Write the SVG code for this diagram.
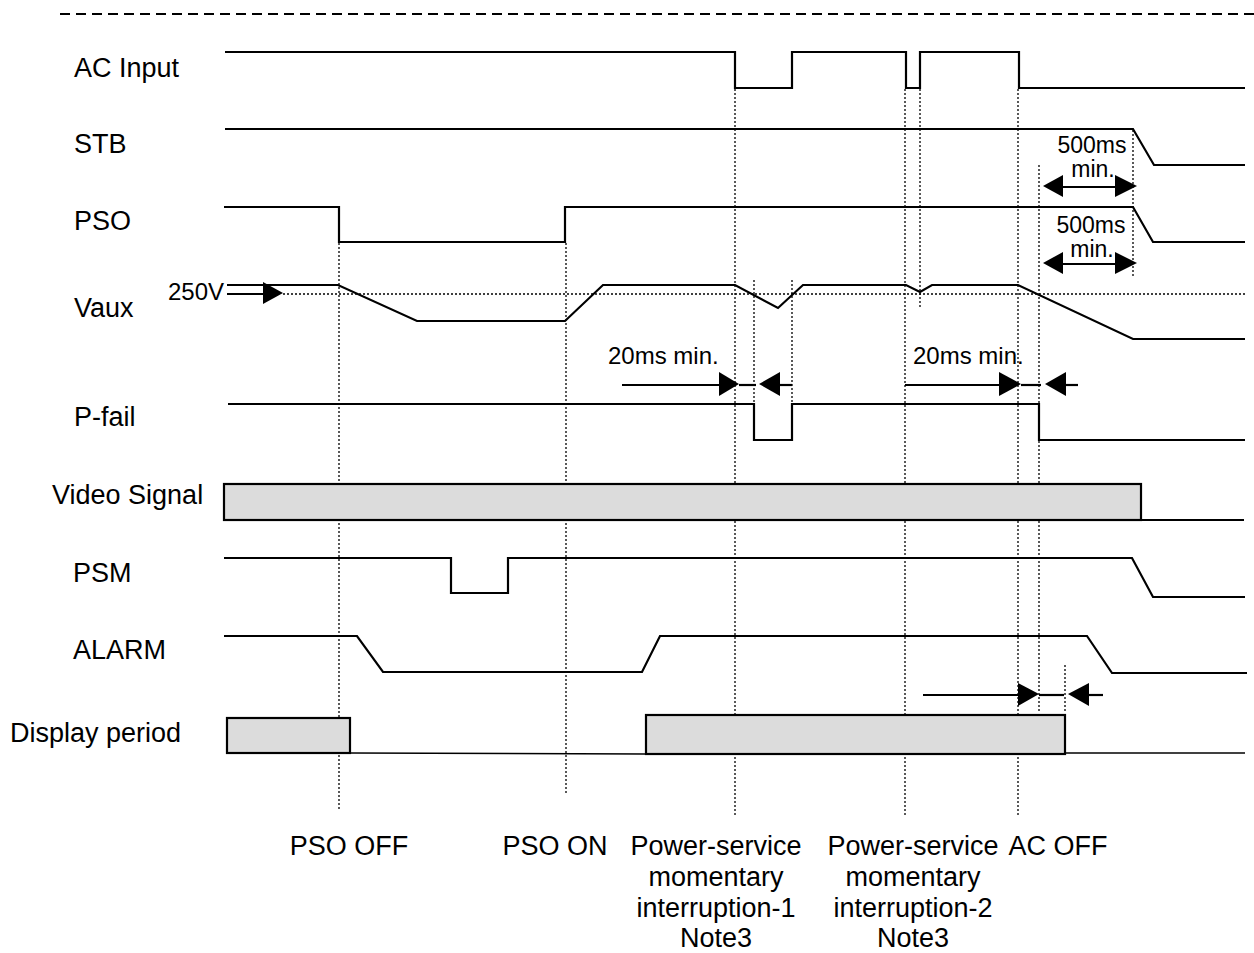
<svg xmlns="http://www.w3.org/2000/svg" width="1254" height="953" viewBox="0 0 1254 953">
<style>
text{font-family:"Liberation Sans",Arial,sans-serif;fill:#000}
.lbl{font-size:27px}
.sm{font-size:24px}
.ms{font-size:23px;text-anchor:middle}
.bt{font-size:27px;text-anchor:middle}
.sig{fill:none;stroke:#000;stroke-width:2.2;stroke-linejoin:miter}
.box{fill:#dcdcdc;stroke:#000;stroke-width:2.2}
.dot{fill:none;stroke:#000;stroke-width:1.3;stroke-dasharray:2 2}
.ar{fill:#000;stroke:none}
.sh{fill:none;stroke:#000;stroke-width:2.2}
</style>
<rect width="1254" height="953" fill="#fff"/>
<line x1="60" y1="14" x2="1254" y2="14" stroke="#000" stroke-width="2.2" stroke-dasharray="10 6"/>
<g id="guides">
<line class="dot" x1="339" y1="243" x2="339" y2="810"/>
<line class="dot" x1="566" y1="243" x2="566" y2="795"/>
<line class="dot" x1="735" y1="89" x2="735" y2="815"/>
<line class="dot" x1="754" y1="280" x2="754" y2="440"/>
<line class="dot" x1="792" y1="280" x2="792" y2="440"/>
<line class="dot" x1="905" y1="89" x2="905" y2="815"/>
<line class="dot" x1="920" y1="89" x2="920" y2="308"/>
<line class="dot" x1="1018" y1="89" x2="1018" y2="815"/>
<line class="dot" x1="1039" y1="165" x2="1039" y2="713"/>
<line class="dot" x1="1065" y1="665" x2="1065" y2="713"/>
<line class="dot" x1="1133" y1="130" x2="1133" y2="277"/>
<line class="dot" x1="283" y1="294" x2="1245" y2="294"/>
</g>
<g id="ac-input">
<text class="lbl" x="74" y="77">AC Input</text>
<polyline class="sig" points="225,52 735,52 735,88 792,88 792,52 906,52 906,88 920,88 920,52 1019,52 1019,88 1245,88"/>
</g>
<g id="stb">
<text class="lbl" x="74" y="153">STB</text>
<polyline class="sig" points="225,129 1133,129 1154,165 1245,165"/>
</g>
<g id="pso">
<text class="lbl" x="74" y="230">PSO</text>
<polyline class="sig" points="224,207 339,207 339,242 565,242 565,207 1133,207 1153,242 1245,242"/>
</g>
<g id="vaux">
<text class="lbl" x="74" y="317">Vaux</text>
<text class="sm" x="168" y="300">250V</text>
<polyline class="sig" points="227,285 338,285 417,321 565,321 603,285 735,285 778,308 803,285 906,285 920,292 932,285 1018,285 1133,339 1245,339"/>
</g>
<g id="pfail">
<text class="lbl" x="74" y="426">P-fail</text>
<polyline class="sig" points="228,404 754,404 754,440 792,440 792,404 1039,404 1039,440 1245,440"/>
</g>
<g id="video">
<text class="lbl" x="52" y="504">Video Signal</text>
<rect class="box" x="224" y="484" width="917" height="36"/>
<line class="sig" x1="1141" y1="520" x2="1244" y2="520"/>
</g>
<g id="psm">
<text class="lbl" x="73" y="582">PSM</text>
<polyline class="sig" points="224,558 451,558 451,593 508,593 508,558 1132,558 1153,597 1245,597"/>
</g>
<g id="alarm">
<text class="lbl" x="73" y="659">ALARM</text>
<polyline class="sig" points="224,636 357,636 383,672 642,672 660,636 1087,636 1112,673 1247,673"/>
</g>
<g id="display">
<text class="lbl" x="10" y="742">Display period</text>
<rect class="box" x="227" y="718" width="123" height="35"/>
<line x1="350" y1="753" x2="646" y2="754" stroke="#000" stroke-width="1.5"/>
<rect class="box" x="646" y="715" width="419" height="39"/>
<line x1="1065" y1="753" x2="1245" y2="753" stroke="#000" stroke-width="1.5"/>
</g>
<g id="connectors">
<line class="sh" x1="1060" y1="187" x2="1118" y2="187"/>
<polygon class="ar" points="1043,186 1063,175 1063,197"/>
<polygon class="ar" points="1137,186 1115,175 1115,197"/>
<line class="sh" x1="1060" y1="264" x2="1118" y2="264"/>
<polygon class="ar" points="1043,263 1063,252 1063,274"/>
<polygon class="ar" points="1137,263 1115,252 1115,274"/>
<line class="sh" x1="227" y1="294" x2="265" y2="294"/>
<polygon class="ar" points="283,293 263,282 263,304"/>
<line class="sh" x1="622" y1="385" x2="721" y2="385"/>
<polygon class="ar" points="739,384 719,372 719,396"/>
<line class="sh" x1="739" y1="385" x2="756" y2="385"/>
<polygon class="ar" points="759,384 780,372 780,396"/>
<line class="sh" x1="778" y1="385" x2="792" y2="385"/>
<line class="sh" x1="905" y1="385" x2="1001" y2="385"/>
<polygon class="ar" points="1021,384 999,372 999,396"/>
<line class="sh" x1="1021" y1="385" x2="1041" y2="385"/>
<polygon class="ar" points="1045,384 1066,372 1066,396"/>
<line class="sh" x1="1064" y1="385" x2="1078" y2="385"/>
<line class="sh" x1="923" y1="695" x2="1020" y2="695"/>
<polygon class="ar" points="1039,694 1018,683 1018,706"/>
<line class="sh" x1="1039" y1="695" x2="1064" y2="695"/>
<polygon class="ar" points="1068,694 1089,683 1089,706"/>
<line class="sh" x1="1087" y1="695" x2="1103" y2="695"/>
</g>
<g id="annotations">
<text class="ms" x="1092" y="153">500ms</text>
<text class="ms" x="1093" y="177">min.</text>
<text class="ms" x="1091" y="233">500ms</text>
<text class="ms" x="1092" y="257">min.</text>
<text class="sm" x="608" y="364">20ms min.</text>
<text class="sm" x="913" y="364">20ms min.</text>
</g>
<g id="events">
<text class="bt" x="349" y="855">PSO OFF</text>
<text class="bt" x="555" y="855">PSO ON</text>
<text class="bt" x="716" y="855">Power-service</text>
<text class="bt" x="716" y="886">momentary</text>
<text class="bt" x="716" y="917">interruption-1</text>
<text class="bt" x="716" y="947">Note3</text>
<text class="bt" x="913" y="855">Power-service</text>
<text class="bt" x="913" y="886">momentary</text>
<text class="bt" x="913" y="917">interruption-2</text>
<text class="bt" x="913" y="947">Note3</text>
<text class="bt" x="1058" y="855">AC OFF</text>
</g>
</svg>
